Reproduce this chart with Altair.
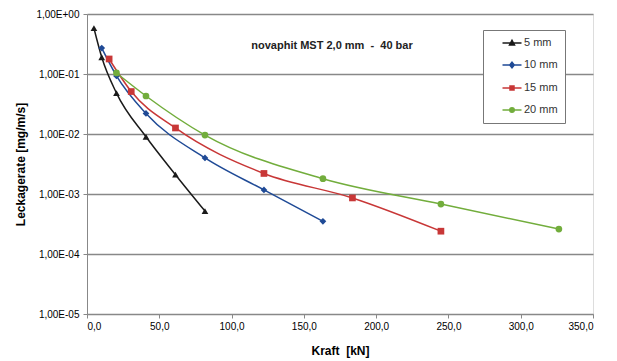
import altair as alt
import pandas as pd

sizes = ["5 mm", "10 mm", "15 mm", "20 mm"]
colors = ["#1a1a1a", "#1f4a96", "#c83737", "#72ad3c"]
markers = ["triangle-up", "diamond", "square", "circle"]
legend_paths = [
    "M-1.9,0H1.9M0,-0.55L0.5,0.4H-0.5Z",
    "M-1.9,0H1.9M0,-0.55L0.45,0L0,0.55L-0.45,0Z",
    "M-1.9,0H1.9M-0.4,-0.4H0.4V0.4H-0.4Z",
    "M-1.9,0H1.9M-0.45,0A0.45,0.45,0,1,0,0.45,0A0.45,0.45,0,1,0,-0.45,0Z",
]

kraft_5 = [4.8, 10.2, 20.4, 40.8, 61.2, 81.6]
leak_5 = [0.58, 0.19, 0.048, 0.009, 0.0021, 0.00052]
kraft_10 = [10.2, 20.4, 40.8, 81.6, 122.4, 163.2]
leak_10 = [0.27, 0.093, 0.022, 0.004, 0.00117, 0.00035]
kraft_15 = [15.3, 30.6, 61.2, 122.4, 183.6, 244.8]
leak_15 = [0.178, 0.051, 0.0126, 0.0022, 0.00086, 0.00024]
kraft_20 = [20.4, 40.8, 81.6, 163.2, 244.8, 326.4]
leak_20 = [0.104, 0.043, 0.0096, 0.0018, 0.00068, 0.00026]

x_ticks = [0, 50, 100, 150, 200, 250, 300, 350]
y_ticks = [1e-5, 1e-4, 1e-3, 1e-2, 1e-1, 1]

rows = []
for name, ks, ls in zip(sizes, [kraft_5, kraft_10, kraft_15, kraft_20],
                        [leak_5, leak_10, leak_15, leak_20]):
    for k, l in zip(ks, ls):
        rows.append({"serie": name, "kraft": k, "leak": l})
df = pd.DataFrame(rows)

FONT = "Liberation Sans"
NB = "\u00a0"

x_enc = alt.X("kraft:Q", scale=alt.Scale(domain=[0, 350], nice=False),
              axis=alt.Axis(values=x_ticks, title="Kraft" + NB + NB + "[kN]",
                            labelExpr="replace(format(datum.value, '.1f'), '.', ',')",
                            grid=False, tickSize=4, labelPadding=3,
                            titlePadding=14, titleFontWeight="bold", titleFontSize=12))
y_enc = alt.Y("leak:Q", scale=alt.Scale(type="log", domain=[1e-5, 1], nice=False),
              axis=alt.Axis(values=y_ticks, title="Leckagerate [mg/m/s]",
                            labelExpr="'1,00E' + (datum.value < 0.5 ? '-0' + format(-log(datum.value)/LN10, '.0f') : '+00')",
                            grid=True, gridColor="#888888", gridWidth=1.5,
                            tickSize=4, labelPadding=4, titlePadding=8,
                            titleFontWeight="bold", titleFontSize=12))

legend = alt.Legend(title=None, orient="none", legendX=396, legendY=16,
                    padding=7, symbolSize=100, symbolOffset=16, symbolStrokeWidth=1.5,
                    symbolOpacity=1, labelOffset=6, rowPadding=11,
                    labelFontSize=11, labelFont=FONT, labelColor="#333333",
                    labelExpr="datum.label + '" + NB * 8 + "'",
                    strokeColor="#777777", fillColor="white")

color_enc = alt.Color("serie:N", scale=alt.Scale(domain=sizes, range=colors), legend=legend)

lines = alt.Chart(df).mark_line(interpolate="monotone", strokeWidth=1.5).encode(
    x=x_enc, y=y_enc, color=color_enc, detail="serie:N")

point_layers = []
for name, mk in zip(sizes, markers):
    point_layers.append(
        alt.Chart(df).transform_filter(alt.datum.serie == name)
        .mark_point(filled=True, opacity=1, size=45, shape=mk)
        .encode(x="kraft:Q", y="leak:Q", color=color_enc)
    )

hidden = alt.Chart(df).mark_point(filled=False, opacity=0, strokeWidth=1.5).encode(
    x="kraft:Q", y="leak:Q", color=color_enc,
    shape=alt.Shape("serie:N", scale=alt.Scale(domain=sizes, range=legend_paths), legend=legend))

chart = alt.layer(lines, *point_layers, hidden).properties(
    width=506, height=300,
    title=alt.TitleParams("novaphit MST 2,0 mm" + NB + NB + "-" + NB + NB + "40 bar",
                          fontSize=11, fontWeight="bold",
                          font=FONT, color="#222222", dy=46, dx=-8),
    autosize=alt.AutoSizeParams(type="none"),
    padding={"left": 87, "top": 14, "right": 24, "bottom": 47},
).configure_view(stroke="#555555", strokeWidth=1.5).configure_axis(
    labelFont=FONT, titleFont=FONT, labelFontSize=10, labelColor="#333333",
    titleColor="#222222", domainColor="#333333", domainWidth=1.5, tickColor="#333333",
).configure(background="white")

chart.save("out.html", embed_options={"renderer": "svg", "actions": False})
